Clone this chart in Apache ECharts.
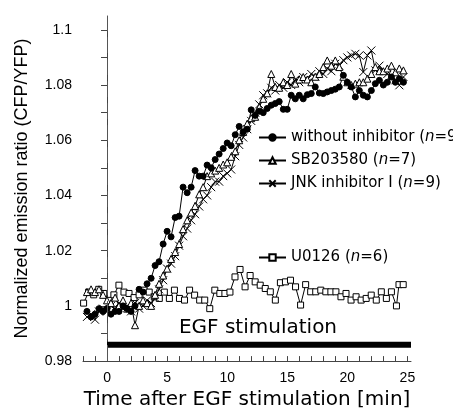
<!DOCTYPE html>
<html><head><meta charset="utf-8">
<script src="https://cdn.jsdelivr.net/npm/echarts@6/dist/echarts.min.js"></script>
<style>html,body{margin:0;padding:0;background:#fff}#c{width:453px;height:415px}</style>
</head><body><div id="c"></div>
<script>
// ---- data ----
const timesMain = [-1.67,-1.33,-1,-0.67,-0.33,0,0.33,0.67,1,1.33,1.67,2,2.33,2.67,3,3.33,3.67,4,4.33,4.67,5,5.33,5.67,6,6.33,6.67,7,7.33,7.67,8,8.33,8.67,9,9.33,9.67,10,10.33,10.67,11,11.33,11.67,12,12.33,12.67,13,13.33,13.67,14,14.33,14.67,15,15.33,15.67,16,16.33,16.67,17,17.33,17.67,18,18.33,18.67,19,19.33,19.67,20,20.33,20.67,21,21.33,21.67,22,22.33,22.67,23,23.33,23.67,24,24.33,24.67];
const withoutInhibitor = [0.998,0.996,
  0.997,0.999,0.998, 0.999,0.997,0.998, 0.998,1.000,0.999, 0.998,1.000,1.006,
  1.005,1.008,1.010, 1.0146,1.016,1.0224, 1.027,1.025,1.032, 1.0325,1.043,1.041,
  1.043,1.049,1.047, 1.047,1.051,1.050, 1.053,1.055,1.057, 1.059,1.058,1.062,
  1.065,1.063,1.064, 1.071,1.069,1.0705, 1.070,1.0715,1.0727, 1.0733,1.074,1.0712,
  1.0712,1.0763,1.075, 1.0763,1.075,1.0765, 1.0769,1.0793,1.0771, 1.0769,1.0775,1.078,
  1.0785,1.0793,1.0835, 1.081,1.0793,1.0757, 1.078,1.0763,1.0757, 1.078,1.0805,1.0817,
  1.080,1.081,1.0829, 1.081,1.0823,1.081];
const sb203580 = [1.005,1.006,
  1.005,1.006,1.004, 1.002,1.001,1.003, 1.000,1.002,0.999, 1.001,0.993,1.000,
  1.002,1.001,1.000, 1.004,1.008,1.011, 1.0135,1.017,1.0195, 1.0224,1.0278,1.031,
  1.0338,1.0362,1.0404, 1.043,1.047,1.048, 1.049,1.050,1.0512, 1.052,1.054,1.056,
  1.060,1.063,1.066, 1.068,1.0685,1.072, 1.075,1.077,1.084, 1.0793,1.079,1.081,
  1.080,1.084,1.0805, 1.082,1.0829,1.082, 1.081,1.083,1.084, 1.0865,1.0889,1.087,
  1.0889,1.0865,1.083, 1.081,1.080,1.0805, 1.081,1.081,1.0823, 1.084,1.0865,1.085,
  1.085,1.086,1.087, 1.0846,1.086,1.0853];
const jnkInhibitor = [0.996,0.997,
  0.995,0.998,0.999, 0.998,1.000,0.999, 1.001,0.999,1.000, 0.998,1.001,0.999,
  1.000,1.002,1.001, 1.003,1.006,1.0093, 1.0135,1.0153,1.018, 1.0218,1.0252,1.028,
  1.031,1.0332,1.036, 1.0386,1.040,1.043, 1.045,1.045,1.047, 1.048,1.0494,1.0542,
  1.0583,1.061,1.064, 1.067,1.070,1.073, 1.0763,1.077,1.079, 1.078,1.080,1.079,
  1.081,1.080,1.082, 1.081,1.0829,1.082, 1.084,1.083,1.085, 1.084,1.086,1.085,
  1.0877,1.087,1.089, 1.090,1.0907,1.0913, 1.0907,1.0847,1.0907, 1.0925,1.0853,1.087,
  1.085,1.084,1.0835, 1.0817,1.0799,1.0829];
const timesU0126 = [-1.95,-1.53,-1.11,-0.69,-0.27,0.15,0.57,0.99,1.41,1.83,2.25,2.67,3.09,3.51,3.93,4.35,4.77,5.19,5.61,6.03,6.45,6.87,7.29,7.71,8.13,8.55,8.97,9.39,9.81,10.23,10.65,11.07,11.49,11.91,12.33,12.75,13.17,13.59,14.01,14.43,14.85,15.27,15.69,16.11,16.53,16.95,17.37,17.79,18.21,18.63,19.05,19.47,19.89,20.31,20.73,21.15,21.57,21.99,22.41,22.83,23.25,23.67,24.09,24.3,24.65];
const u0126 = [1.001,1.005,1.004,1.006,1.0045,1.002,1.004,1.0075,1.005,1.0045,
  1.003,1.004,1.0057,1.005,1.0033,1.0027,1.005,1.0027,1.0057,1.0027,
  1.0021,1.0057,1.0039,1.0021,1.0021,0.999,1.0057,1.0045,1.0045,1.005,
  1.0105,1.0132,1.0069,1.011,1.0087,1.0075,1.0063,1.0051,1.0021,1.0084,
  1.0087,1.0093,1.0069,1.0003,1.0077,1.0051,1.0051,1.0057,1.0051,1.0051,
  1.0051,1.0033,1.0045,1.0021,1.0033,1.0021,1.0027,1.0039,1.0021,1.0051,
  1.0027,1.0051,1.0,1.0077,1.0077];
const seriesNames = ['without inhibitor','SB203580','JNK inhibitor I','U0126'];
const nCounts = [9,7,9,6];
const yTickValues = [0.98,0.99,1.00,1.01,1.02,1.03,1.04,1.05,1.06,1.07,1.08,1.09,1.10];
const yLabelValues = [0.98,1.00,1.02,1.04,1.06,1.08,1.10];
const xTickValues = [-2,-1,0,1,2,3,4,5,6,7,8,9,10,11,12,13,14,15,16,17,18,19,20,21,22,23,24,25];
const xLabelValues = [0,5,10,15,20,25];
const stimStart = 0, stimEnd = 25.3, egfBarLevel = 0.9859;
const xRange = [-2, 25.3], yRange = [0.98, 1.105];

const pairs = (xs, ys) => xs.map((x, i) => [x, ys[i]]);
const black = '#000';
const labelFont = 'Liberation Sans';
const textFont = 'DejaVu Sans';

function lineSeries(name, xs, ys, symbol, size, fill) {
  return {
    name, type: 'line', data: pairs(xs, ys), symbol, symbolSize: size,
    showAllSymbol: true, animation: false,
    lineStyle: { color: black, width: 1 },
    itemStyle: { color: fill, borderColor: black, borderWidth: 1 },
    emphasis: { disabled: true }
  };
}

const chart = echarts.init(document.getElementById('c'), null, { renderer: 'canvas' });
const legendText = {
  color: black, fontSize: 15, fontFamily: textFont, lineHeight: 17,
  rich: { i: { fontStyle: 'italic', fontSize: 15, fontFamily: textFont, color: black } }
};
const legendFmt = name => name + ' ({i|n}=' + nCounts[seriesNames.indexOf(name)] + ')';

chart.setOption({
  backgroundColor: '#fff',
  animation: false,
  grid: { left: 83, right: 42, top: 16, bottom: 51, containLabel: false },
  xAxis: {
    type: 'value', min: xRange[0], max: xRange[1],
    name: 'Time after EGF stimulation [min]', nameLocation: 'middle', nameGap: 26,
    nameTextStyle: { fontSize: 20, fontFamily: textFont, color: black },
    axisLine: { lineStyle: { color: '#444', width: 1 } },
    axisTick: { inside: true, length: 5, lineStyle: { color: '#444' }, customValues: xTickValues },
    axisLabel: { customValues: xLabelValues, fontSize: 14, fontFamily: labelFont, color: black, margin: 10 },
    splitLine: { show: false }
  },
  yAxis: {
    type: 'value', min: yRange[0], max: yRange[1],
    name: 'Normalized emission ratio (CFP/YFP)', nameLocation: 'middle', nameGap: 52, nameRotate: 90,
    nameTextStyle: { fontSize: 18, fontFamily: labelFont, color: black },
    axisLine: { show: true, lineStyle: { color: '#444', width: 1 } },
    axisTick: { show: true, inside: false, length: 6, lineStyle: { color: '#444' }, customValues: yTickValues },
    axisLabel: { customValues: yLabelValues, fontSize: 14, fontFamily: labelFont, color: black, margin: 11,
      formatter: v => String(+v.toFixed(2)) },
    splitLine: { show: false }
  },
  legend: [
    { data: seriesNames.slice(0, 3), orient: 'vertical', left: 258, top: 129, itemWidth: 27, itemHeight: 8,
      itemGap: 6, textStyle: legendText, formatter: legendFmt, selectedMode: false, padding: 0 },
    { data: [seriesNames[3]], orient: 'vertical', left: 258, top: 249, itemWidth: 27, itemHeight: 8,
      textStyle: legendText, formatter: legendFmt, selectedMode: false, padding: 0 }
  ],
  graphic: [
    { type: 'text', x: 258, y: 328, silent: true,
      style: { text: 'EGF stimulation', fontSize: 20, fontFamily: textFont, fill: black,
               align: 'center', verticalAlign: 'middle' } }
  ],
  series: [
    {
      name: 'EGF bar', type: 'line', data: [[stimStart, egfBarLevel], [stimEnd, egfBarLevel]],
      symbol: 'none', silent: true, lineStyle: { color: black, width: 6 }, z: 1,
      markLine: { silent: true, symbol: ['none', 'none'], label: { show: false },
        lineStyle: { type: [16, 6], color: '#555', width: 1 }, data: [{ xAxis: stimStart }] }
    },
    lineSeries(seriesNames[3], timesU0126, u0126, 'rect', 6, '#fff'),
    lineSeries(seriesNames[2], timesMain, jnkInhibitor, 'path://M0,0L10,10M10,0L0,10', 8, 'none'),
    lineSeries(seriesNames[1], timesMain, sb203580, 'triangle', 7, '#fff'),
    lineSeries(seriesNames[0], timesMain, withoutInhibitor, 'circle', 6, black)
  ]
});
</script></body></html>
